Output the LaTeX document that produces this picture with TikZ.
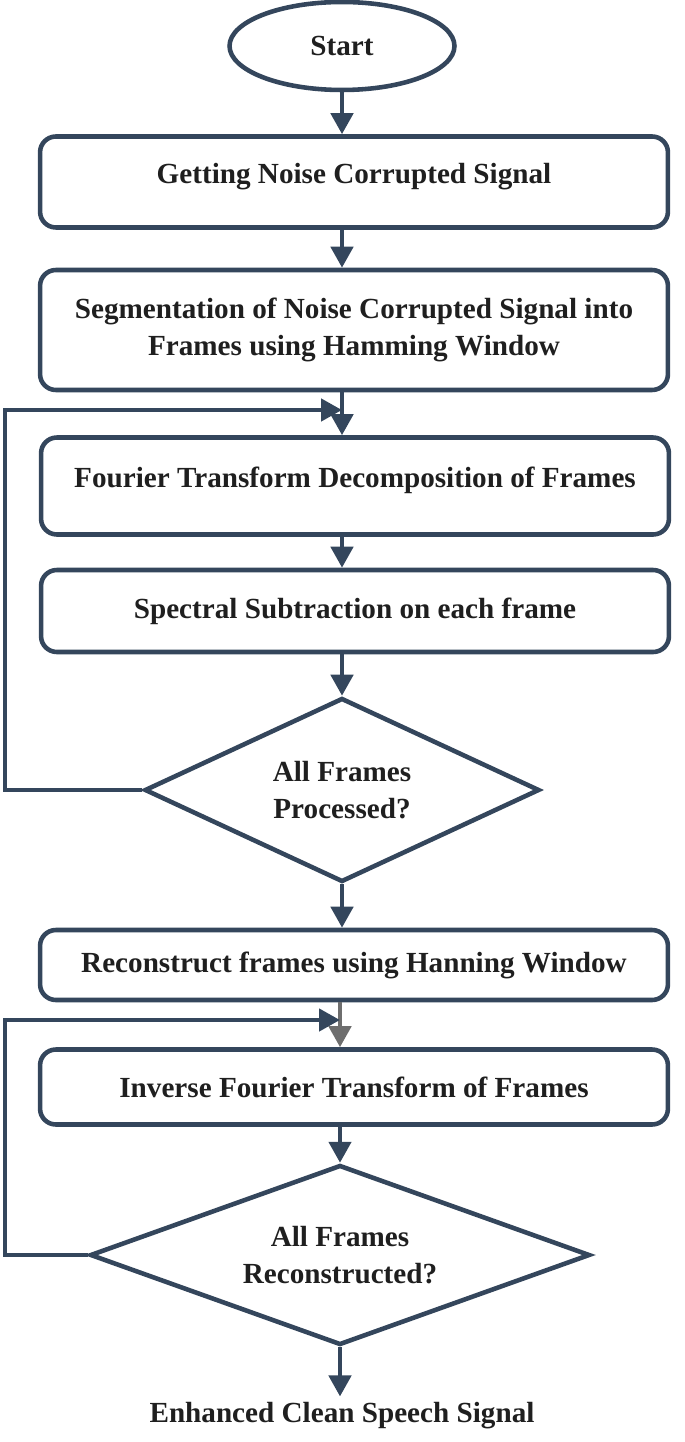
\documentclass[tikz,border=0pt]{standalone}
\usepackage{fontspec}
\setmainfont{Liberation Serif}
\usetikzlibrary{positioning, arrows.meta, shapes.geometric}
\definecolor{flowslate}{HTML}{34465C}
\definecolor{flowgrey}{HTML}{6E6E6E}

\begin{document}
\begin{tikzpicture}[
  x=0.02cm, y=-0.02cm,
  >={Triangle[length=4.2mm, width=4.4mm]},
  font=\fontsize{16.6}{21}\selectfont\bfseries,
  every node/.style={text=black!88},
  stepbox/.style={
    draw=flowslate, rounded corners=9pt, line width=2.6pt,
    minimum width=12.56cm, align=center
  },
  terminal/.style={ellipse, draw=flowslate, line width=2.6pt,
    minimum width=4.5cm, minimum height=1.76cm},
  decision/.style={diamond, draw=flowslate, line width=2.6pt,
    align=center, inner sep=0pt},
  arr/.style={->, line width=2.6pt, flowslate},
  loop/.style={arr, rounded corners=0pt}
]
\useasboundingbox (0,0) rectangle (685,1442);

% Main column
\node[terminal] (start) at (342, 46) {Start};
\node[stepbox, minimum height=1.82cm] (getsig) at (354, 182)
  {Getting Noise Corrupted Signal\\[-10.8pt]\mbox{}};
\node[stepbox, minimum height=2.4cm] (segment) at (354, 330)
  {Segmentation of Noise Corrupted Signal into\\Frames using Hamming Window};
\node[stepbox, minimum height=1.94cm] (fourier) at (355, 486)
  {Fourier Transform Decomposition of Frames\\[-10.8pt]\mbox{}};
\node[stepbox, minimum height=1.64cm] (subtract) at (355, 611)
  {Spectral Subtraction on each frame};
\node[decision, aspect=2.15, minimum width=7.9cm, minimum height=3.68cm] (allproc) at (342, 790)
  {All Frames\\Processed?};
\node[stepbox, minimum height=1.4cm] (reconst) at (354, 965)
  {Reconstruct frames using Hanning Window};
\node[stepbox, minimum height=1.5cm] (inverse) at (354, 1087)
  {Inverse Fourier Transform of Frames};
\node[decision, aspect=2.8, minimum width=10cm, minimum height=3.6cm] (allrec) at (340, 1255)
  {All Frames\\Reconstructed?};
\node (clean) at (342, 1416) {Enhanced Clean Speech Signal};

% Loop junctions
\coordinate (join1) at (342, 410);
\coordinate (join2) at (340, 1020);

% Straight arrows
\draw[arr] (start) -- (start |- getsig.north);
\draw[arr] (getsig.south -| start) -- (start |- segment.north);
\draw[line width=2.6pt, flowslate] (segment.south -| join1) -- (join1);
\draw[arr] (join1) -- (join1 |- fourier.north);
\draw[arr] (fourier.south -| join1) -- (join1 |- subtract.north);
\draw[arr] (subtract.south -| join1) -- (allproc.north);
\draw[arr] (allproc.south) -- (allproc.south |- reconst.north);
\draw[line width=2.6pt, flowgrey] (reconst.south -| join2) -- (join2);
\draw[->, line width=2.6pt, flowgrey] (join2) -- (join2 |- inverse.north);
\draw[arr] (inverse.south -| join2) -- (allrec.north);
\draw[arr] (allrec.south) -- (allrec.south |- clean.north);

% Feedback loops
\draw[loop] (allproc.west) -- (5, 790) -- (5, 410) -- (join1);
\draw[loop] (allrec.west) -- (5, 1255) -- (5, 1020) -- (join2);

\end{tikzpicture}
\end{document}
